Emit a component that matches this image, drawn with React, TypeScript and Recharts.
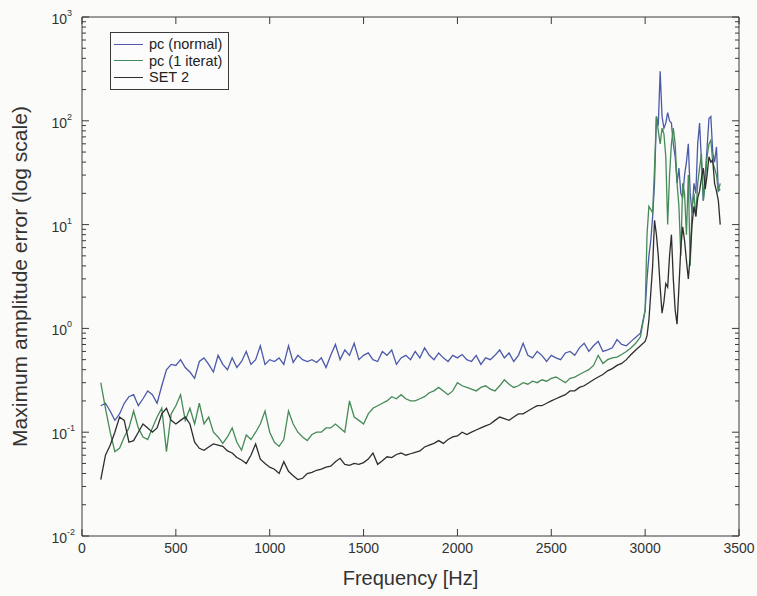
import { LineChart, Line, XAxis, YAxis, Legend } from 'recharts'

// frequency grid (Hz): 25 Hz steps up to 2975, then 10 Hz through the resonance
const freqs = [
  100, 125, 150, 175, 200, 225, 250, 275, 300, 325, 350, 375, 400, 425, 450, 475,
  500, 525, 550, 575, 600, 625, 650, 675, 700, 725, 750, 775, 800, 825, 850, 875,
  900, 925, 950, 975, 1000, 1025, 1050, 1075, 1100, 1125, 1150, 1175, 1200, 1225,
  1250, 1275, 1300, 1325, 1350, 1375, 1400, 1425, 1450, 1475, 1500, 1525, 1550,
  1575, 1600, 1625, 1650, 1675, 1700, 1725, 1750, 1775, 1800, 1825, 1850, 1875,
  1900, 1925, 1950, 1975, 2000, 2025, 2050, 2075, 2100, 2125, 2150, 2175, 2200,
  2225, 2250, 2275, 2300, 2325, 2350, 2375, 2400, 2425, 2450, 2475, 2500, 2525,
  2550, 2575, 2600, 2625, 2650, 2675, 2700, 2725, 2750, 2775, 2800, 2825, 2850,
  2875, 2900, 2925, 2950, 2975,
  3000, 3010, 3020, 3030, 3040, 3050, 3060, 3070, 3080, 3090, 3100, 3110, 3120,
  3130, 3140, 3150, 3160, 3170, 3180, 3190, 3200, 3210, 3220, 3230, 3240, 3250,
  3260, 3270, 3280, 3290, 3300, 3310, 3320, 3330, 3340, 3350, 3360, 3370, 3380,
  3390, 3400,
]

const pcNormal = [
  0.18, 0.19, 0.16, 0.13, 0.15, 0.19, 0.22, 0.23, 0.18, 0.21, 0.25, 0.23, 0.19, 0.28, 0.4, 0.45,
  0.44, 0.5, 0.42, 0.38, 0.33, 0.48, 0.52, 0.45, 0.38, 0.55, 0.45, 0.4, 0.52, 0.42, 0.48, 0.6,
  0.45, 0.5, 0.68, 0.45,
  0.5, 0.48, 0.52, 0.45, 0.68, 0.47, 0.55, 0.5, 0.48, 0.5, 0.47, 0.52, 0.42, 0.55, 0.7, 0.5,
  0.62, 0.55, 0.72, 0.5,
  0.55, 0.58, 0.5, 0.48, 0.6, 0.55, 0.62, 0.45, 0.52, 0.55, 0.5, 0.6, 0.52, 0.65, 0.55, 0.5,
  0.58, 0.52, 0.48, 0.55,
  0.52, 0.56, 0.5, 0.48, 0.55, 0.45, 0.52, 0.5, 0.55, 0.62, 0.52, 0.58, 0.48, 0.55, 0.72, 0.55,
  0.52, 0.6, 0.55, 0.48,
  0.55, 0.52, 0.5, 0.58, 0.6, 0.55, 0.65, 0.72, 0.6, 0.68, 0.75, 0.6, 0.62, 0.65, 0.78, 0.7,
  0.68, 0.75, 0.82, 0.9,
  1.5, 3, 5, 7, 12, 25, 110, 90, 300, 110, 85, 95, 120, 100, 95, 60, 45, 25, 35, 20,
  18, 30, 40, 60, 20, 13, 25, 20, 60, 95, 40, 17, 30, 55, 105, 110, 50, 40, 56, 21, 22,
]

const pcIterat = [
  0.3, 0.17, 0.1, 0.065, 0.07, 0.09, 0.11, 0.16, 0.11, 0.09, 0.085, 0.11, 0.14, 0.17, 0.065, 0.15,
  0.18, 0.23, 0.13, 0.17, 0.12, 0.19, 0.12, 0.14, 0.1, 0.09, 0.078, 0.09, 0.11, 0.08, 0.067, 0.094,
  0.085, 0.1, 0.12, 0.16,
  0.1, 0.08, 0.073, 0.085, 0.16, 0.12, 0.1, 0.09, 0.083, 0.095, 0.1, 0.1, 0.11, 0.11, 0.12, 0.11,
  0.1, 0.2, 0.14, 0.13,
  0.12, 0.15, 0.17, 0.18, 0.19, 0.2, 0.22, 0.21, 0.23, 0.21, 0.2, 0.2, 0.21, 0.22, 0.24, 0.25,
  0.27, 0.25, 0.23, 0.25,
  0.3, 0.28, 0.27, 0.26, 0.25, 0.27, 0.28, 0.26, 0.25, 0.28, 0.32, 0.29, 0.27, 0.28, 0.3, 0.29,
  0.31, 0.3, 0.32, 0.31,
  0.33, 0.34, 0.32, 0.3, 0.33, 0.34, 0.36, 0.38, 0.4, 0.44, 0.55, 0.46, 0.5, 0.52, 0.53, 0.56,
  0.6, 0.65, 0.72, 0.83,
  1.5, 8, 15, 14, 13, 35, 110, 80, 60, 85, 75, 45, 10, 30, 60, 85, 60, 25, 15, 5,
  25, 20, 8, 30, 4, 15, 20, 12, 25, 35, 48, 17, 25, 45, 60, 65, 40, 35, 30, 21, 25,
]

const set2 = [
  0.035, 0.06, 0.075, 0.1, 0.14, 0.13, 0.08, 0.083, 0.1, 0.12, 0.11, 0.1, 0.11, 0.15, 0.17, 0.13,
  0.12, 0.13, 0.14, 0.12, 0.08, 0.07, 0.067, 0.072, 0.077, 0.075, 0.073, 0.066, 0.063, 0.057, 0.054, 0.05,
  0.06, 0.077, 0.055, 0.05,
  0.046, 0.044, 0.04, 0.052, 0.042, 0.038, 0.035, 0.036, 0.04, 0.041, 0.043, 0.044, 0.046, 0.047, 0.052, 0.056,
  0.049, 0.048, 0.05, 0.049,
  0.051, 0.055, 0.063, 0.049, 0.053, 0.058, 0.057, 0.061, 0.063, 0.06, 0.062, 0.064, 0.066, 0.072, 0.075, 0.078,
  0.083, 0.078, 0.085, 0.09,
  0.092, 0.1, 0.095, 0.1, 0.105, 0.11, 0.115, 0.12, 0.13, 0.14, 0.135, 0.13, 0.14, 0.15, 0.15, 0.16,
  0.17, 0.18, 0.18, 0.19,
  0.2, 0.21, 0.22, 0.23, 0.25, 0.25, 0.27, 0.28, 0.3, 0.32, 0.34, 0.36, 0.39, 0.41, 0.44, 0.46,
  0.5, 0.56, 0.62, 0.68,
  0.75, 0.85, 1.2, 2.2, 4, 11, 8, 5, 2.5, 1.4, 1.8, 2.7, 2.5, 5, 8, 3, 1.5, 1.1, 2.5, 6,
  9.5, 7, 4.5, 3, 5, 10, 15, 12, 18, 21, 28, 35, 22, 30, 45, 40, 42, 25, 21, 17, 10,
]

const xTicks = [0, 500, 1000, 1500, 2000, 2500, 3000, 3500]
const yMajor = [0.01, 0.1, 1, 10, 100, 1000]
const yExp = ['-2', '-1', '0', '1', '2', '3']
const yTicks = [
  0.01, 0.02, 0.03, 0.04, 0.05, 0.06, 0.07, 0.08, 0.09,
  0.1, 0.2, 0.3, 0.4, 0.5, 0.6, 0.7, 0.8, 0.9,
  1, 2, 3, 4, 5, 6, 7, 8, 9,
  10, 20, 30, 40, 50, 60, 70, 80, 90,
  100, 200, 300, 400, 500, 600, 700, 800, 900,
  1000,
]

const series = [
  { key: 'normal', name: 'pc (normal)', color: '#4c5aa8' },
  { key: 'iterat', name: 'pc (1 iterat)', color: '#468a58' },
  { key: 'set2', name: 'SET 2', color: '#2e2e2e' },
]

const data = freqs.map((f, i) => ({ f, normal: pcNormal[i], iterat: pcIterat[i], set2: set2[i] }))

const FONT = '"Liberation Sans", Arial, Helvetica, sans-serif'
const AX = '#3a3a3a'
const TXT = '#333'

function LeftTick({ x, y, payload }: any) {
  const i = yMajor.indexOf(payload.value)
  return (
    <g>
      <line x1={x} x2={x + (i >= 0 ? 7 : 4)} y1={y} y2={y} stroke={AX} />
      {i >= 0 && (
        <>
          <text x={x - 15} y={y + 7} textAnchor="end" fontSize={14} fill={TXT} fontFamily={FONT}>10</text>
          <text x={x - 15} y={y - 1} textAnchor="start" fontSize={9} fill={TXT} fontFamily={FONT}>{yExp[i]}</text>
        </>
      )}
    </g>
  )
}

function RightTick({ x, y, payload }: any) {
  const major = yMajor.indexOf(payload.value) >= 0
  return <line x1={x} x2={x - (major ? 7 : 4)} y1={y} y2={y} stroke={AX} />
}

function BottomTick({ x, y, payload }: any) {
  return (
    <g>
      <line x1={x} x2={x} y1={y} y2={y - 7} stroke={AX} />
      <text x={x} y={y + 17} textAnchor="middle" fontSize={14} fill={TXT} fontFamily={FONT}>{payload.value}</text>
    </g>
  )
}

function TopTick({ x, y }: any) {
  return <line x1={x} x2={x} y1={y} y2={y + 7} stroke={AX} />
}

function LegendBox() {
  return (
    <div style={{ border: `1px solid ${AX}`, background: '#fcfcfc', padding: '3px 6px 3px 3px', fontFamily: FONT, fontSize: 14.5, color: '#222', lineHeight: '16.5px' }}>
      {series.map((s) => (
        <div key={s.key} style={{ display: 'flex', alignItems: 'center', whiteSpace: 'nowrap' }}>
          <span style={{ display: 'inline-block', width: 29, borderTop: `1.5px solid ${s.color}`, marginRight: 6 }} />
          {s.name}
        </div>
      ))}
    </div>
  )
}

export default function App() {
  return (
    <div style={{ position: 'absolute', left: 0, top: 0, width: 757, height: 596, background: '#fbfbfa' }}>
      <LineChart width={757} height={596} data={data} margin={{ top: 0, right: 0, bottom: 0, left: 0 }}>
        <XAxis
          xAxisId="b"
          dataKey="f"
          type="number"
          domain={[0, 3500]}
          ticks={xTicks}
          interval={0}
          height={60}
          tickSize={0}
          tickMargin={0}
          tickLine={false}
          tick={<BottomTick />}
          axisLine={{ stroke: AX }}
          label={{ value: 'Frequency [Hz]', position: 'insideBottom', offset: 11, fill: TXT, fontSize: 20, fontFamily: FONT }}
        />
        <XAxis
          xAxisId="t"
          orientation="top"
          dataKey="f"
          type="number"
          domain={[0, 3500]}
          ticks={xTicks}
          interval={0}
          height={17}
          tickSize={0}
          tickMargin={0}
          tickLine={false}
          tick={<TopTick />}
          axisLine={{ stroke: AX }}
        />
        <YAxis
          yAxisId="l"
          scale="log"
          domain={[0.01, 1000]}
          allowDataOverflow
          ticks={yTicks}
          interval={0}
          width={82}
          tickSize={0}
          tickMargin={0}
          tickLine={false}
          tick={<LeftTick />}
          axisLine={{ stroke: AX }}
          label={{ value: 'Maximum amplitude error (log scale)', angle: -90, position: 'insideLeft', offset: 20, fill: TXT, fontSize: 21, fontFamily: FONT, style: { textAnchor: 'middle' } }}
        />
        <YAxis
          yAxisId="r"
          orientation="right"
          scale="log"
          domain={[0.01, 1000]}
          allowDataOverflow
          ticks={yTicks}
          interval={0}
          width={18}
          tickSize={0}
          tickMargin={0}
          tickLine={false}
          tick={<RightTick />}
          axisLine={{ stroke: AX }}
        />
        <Legend
          layout="horizontal"
          align="center"
          verticalAlign="middle"
          content={<LegendBox />}
          wrapperStyle={{ left: 110, top: 32, width: 'auto', height: 'auto' }}
        />
        {series.map((s) => (
          <Line
            key={s.key}
            xAxisId="b"
            yAxisId="l"
            type="linear"
            dataKey={s.key}
            name={s.name}
            stroke={s.color}
            strokeWidth={1.3}
            dot={false}
            activeDot={false}
            isAnimationActive={false}
          />
        ))}
      </LineChart>
    </div>
  )
}
